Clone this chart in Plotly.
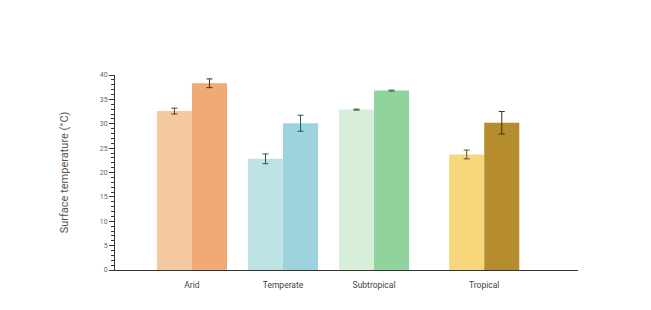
import plotly.graph_objects as go

categories = ["Arid", "Temperate", "Subtropical", "Tropical"]
series1_values = [32.6, 22.8, 32.9, 23.7]
series1_errors = [0.6, 1.0, 0.1, 0.9]
series2_values = [38.3, 30.1, 36.8, 30.2]
series2_errors = [0.9, 1.65, 0.1, 2.3]
y_ticks = [0, 5, 10, 15, 20, 25, 30, 35, 40]

# layout: category centre positions on a numeric axis
cat_pos = [0, 1, 2, 3.21]
bar_w = 0.385

light_colors = ["#f5c9a0", "#bde3e4", "#d7eedb", "#f7d67c"]
dark_colors = ["#f2aa74", "#9dd3dc", "#90d39c", "#b58d2e"]
err1_colors = ["#5a3a22", "#2f4f55", "#2f5a36", "#5a4a1c"]
err2_colors = ["#4a2c18", "#2a5660", "#2f6a38", "#3f3212"]

fig = go.Figure()
for i, c in enumerate(categories):
    fig.add_trace(go.Bar(
        x=[cat_pos[i]], y=[series1_values[i]], width=bar_w, offset=-bar_w,
        marker=dict(color=light_colors[i], line=dict(width=0)),
        error_y=dict(type="data", array=[series1_errors[i]], color=err1_colors[i],
                     thickness=1, width=3),
        showlegend=False, name=c))
    fig.add_trace(go.Bar(
        x=[cat_pos[i]], y=[series2_values[i]], width=bar_w, offset=0,
        marker=dict(color=dark_colors[i], line=dict(width=0)),
        error_y=dict(type="data", array=[series2_errors[i]], color=err2_colors[i],
                     thickness=1, width=3),
        showlegend=False, name=c))

fig.update_layout(
    width=651, height=310,
    margin=dict(l=110, r=73, t=75, b=40),
    paper_bgcolor="white", plot_bgcolor="white",
    barmode="overlay",
    font=dict(family="Roboto, 'DejaVu Sans', sans-serif", color="#444"),
    xaxis=dict(
        range=[-0.90, 4.24], tickvals=cat_pos, ticktext=categories,
        showgrid=False, zeroline=False, showline=True, linecolor="#333", linewidth=1,
        ticks="outside", ticklen=7, tickcolor="rgba(0,0,0,0)",
        tickfont=dict(size=8.5, color="#444"), fixedrange=True,
    ),
    yaxis=dict(
        range=[0, 40], tickvals=y_ticks, showgrid=False, zeroline=False,
        anchor="free", position=4 / 468,
        showline=True, linecolor="#333", linewidth=1,
        ticks="outside", ticklen=5, tickcolor="#333", tickwidth=1,
        minor=dict(dtick=1, ticks="outside", ticklen=3, tickcolor="#333", tickwidth=1),
        tickfont=dict(size=7, color="#666"),
        title=dict(text="Surface temperature (°C)", font=dict(size=11, color="#555"), standoff=27),
    ),
)

fig.write_html("out.html")
